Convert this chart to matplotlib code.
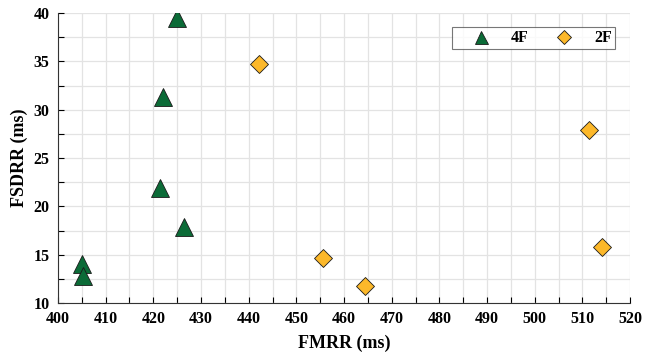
import matplotlib
matplotlib.use("Agg")
import matplotlib.pyplot as plt
from matplotlib.ticker import MultipleLocator

plt.rcParams['font.family'] = ['Liberation Serif', 'DejaVu Serif']
plt.rcParams['font.weight'] = 'bold'

# 4F group
fmrr_4f = [425.0, 422.0, 421.4, 426.5, 405.0, 405.2]
fsdrr_4f = [39.5, 31.3, 21.9, 17.9, 14.0, 12.8]

# 2F group
fmrr_2f = [442.2, 455.6, 464.5, 511.3, 514.1]
fsdrr_2f = [34.7, 14.7, 11.8, 27.9, 15.8]

fig = plt.figure(figsize=(6.56, 3.54), dpi=100)
ax = fig.add_axes([0.0884, 0.144, 0.872, 0.819])

ax.plot(fmrr_4f, fsdrr_4f, linestyle='none', marker='^', markersize=13,
        markerfacecolor='#0b6b37', markeredgecolor='#1a1a1a', markeredgewidth=0.6,
        label='4F', zorder=3)
ax.plot(fmrr_2f, fsdrr_2f, linestyle='none', marker='D', markersize=9.5,
        markerfacecolor='#fcb82a', markeredgecolor='#1a1a1a', markeredgewidth=0.6,
        label='2F', zorder=3)

ax.set_xlim(400, 520)
ax.set_ylim(10, 40)
ax.xaxis.set_major_locator(MultipleLocator(10))
ax.xaxis.set_minor_locator(MultipleLocator(5))
ax.yaxis.set_major_locator(MultipleLocator(5))
ax.yaxis.set_minor_locator(MultipleLocator(2.5))
ax.grid(True, which='both', color='#e3e3e3', linewidth=0.9, zorder=0)
ax.set_axisbelow(True)
ax.tick_params(which='both', direction='in', length=4, width=0.8, top=False, right=False)
ax.tick_params(labelsize=11.5, pad=6)
for s in ['top', 'right']:
    ax.spines[s].set_visible(False)
for s in ['left', 'bottom']:
    ax.spines[s].set_color('#333333')

ax.set_xlabel('FMRR (ms)', fontsize=13, fontweight='bold', labelpad=5)
ax.set_ylabel('FSDRR (ms)', fontsize=13, fontweight='bold', labelpad=4)

leg = ax.legend(loc='upper right', ncol=2, fontsize=11.5, frameon=True, fancybox=False,
                markerscale=0.72, handlelength=3.2, handletextpad=0.3, columnspacing=0.6,
                bbox_to_anchor=(0.974, 0.952), borderpad=0.2, borderaxespad=0)
leg.get_frame().set_edgecolor('#555555')
leg.get_frame().set_linewidth(0.8)

fig.savefig('out.png', dpi=100)
